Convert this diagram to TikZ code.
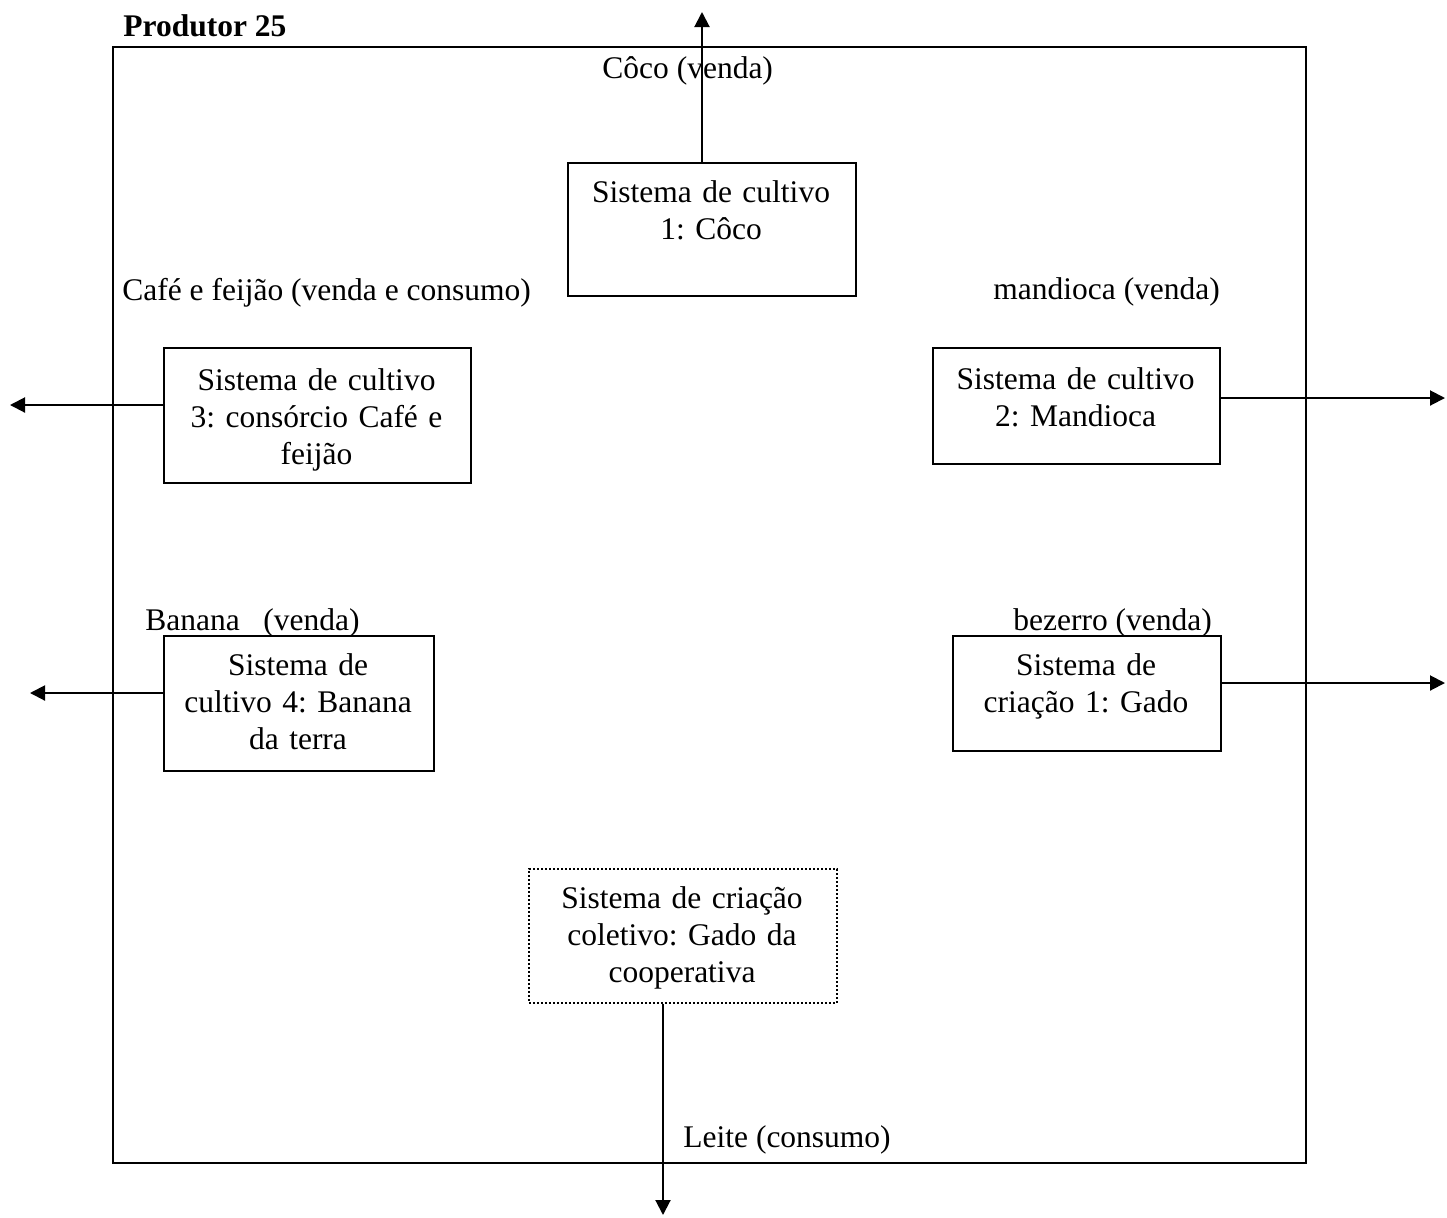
\documentclass[tikz,border=0pt]{standalone}
\usepackage{fontspec}
\setmainfont{Liberation Serif}
\usetikzlibrary{arrows.meta}
\begin{document}
\frenchspacing
\begin{tikzpicture}[x=0.5pt,y=-0.5pt,
  font=\fontsize{15.75}{18.5}\selectfont\frenchspacing,
  frm/.style={draw, line width=1pt, inner sep=0pt, anchor=north west},
  boxst/.style={draw, line width=1pt, inner sep=0pt, anchor=north west},
  dotbox/.style={draw, line width=0.8pt, dash pattern=on 1pt off 1pt, inner sep=0pt, anchor=north west},
  txt/.style={inner sep=0pt, anchor=base, align=center},
  lbl/.style={inner sep=0pt, anchor=base west},
  arr/.style={line width=1pt, -{Triangle[length=7.5pt,width=7.5pt]}}]
\useasboundingbox (0,0) rectangle (1447,1217);

\node[frm, minimum width=596.5pt, minimum height=558pt] (frame) at (112,46) {};
\node[lbl, font=\fontsize{15.75}{18.5}\selectfont\bfseries] (title) at (123,36) {Produtor 25};

% boxes
\node[boxst, minimum width=144pt, minimum height=66.5pt] (b1) at (567,162) {};
\node[boxst, minimum width=153.5pt, minimum height=67.5pt] (b3) at (163,347) {};
\node[boxst, minimum width=143.5pt, minimum height=58pt] (b2) at (932,347) {};
\node[boxst, minimum width=135pt, minimum height=67.5pt] (b4) at (163,635) {};
\node[boxst, minimum width=134pt, minimum height=57.5pt] (b5) at (952,635) {};
\node[dotbox, minimum width=154pt, minimum height=67pt] (b6) at (528,868) {};

% box texts
\node[txt, text width=144pt] (t1) at (711,202) {Sistema de cultivo\\1: Côco};
\node[txt, text width=153.5pt] (t3) at (316.5,390) {Sistema de cultivo\\3: consórcio Café e\\feijão};
\node[txt, text width=143.5pt] (t2) at (1075.5,389) {Sistema de cultivo\\2: Mandioca};
\node[txt, text width=135pt] (t4) at (298,675) {Sistema de\\cultivo 4: Banana\\da terra};
\node[txt, text width=134pt] (t5) at (1086,675) {Sistema de\\criação 1: Gado};
\node[txt, text width=154pt] (t6) at (682,908) {Sistema de criação\\coletivo: Gado da\\cooperativa};

% flow labels
\node[lbl] (l1) at (602,78) {Côco (venda)};
\node[lbl] (l3) at (122,300) {Café e feijão (venda e consumo)};
\node[lbl] (l2) at (993,299) {mandioca (venda)};
\node[lbl] (l4) at (145,630) {Banana\ \ \ (venda)};
\node[lbl] (l5) at (1013,630) {bezerro (venda)};
\node[lbl] (l6) at (683,1147) {Leite (consumo)};

% arrow ends
\coordinate (e1) at (702,12);
\coordinate (e3) at (10,405);
\coordinate (e2) at (1445,398);
\coordinate (e4) at (30,693);
\coordinate (e5) at (1445,683);
\coordinate (e6) at (663,1215);

\draw[arr] (b1.north -| e1) -- (e1);
\draw[arr] (b3.west |- e3) -- (e3);
\draw[arr] (b2.east |- e2) -- (e2);
\draw[arr] (b4.west |- e4) -- (e4);
\draw[arr] (b5.east |- e5) -- (e5);
\draw[arr] (b6.south -| e6) -- (e6);
\end{tikzpicture}
\end{document}
